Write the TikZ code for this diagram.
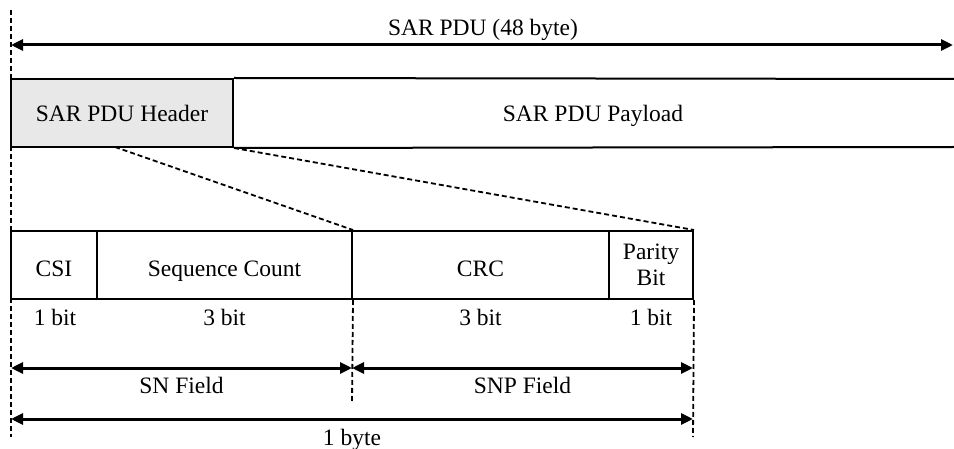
\documentclass[tikz,border=0pt]{standalone}
\usepackage{fontspec}
\setmainfont{Liberation Serif}
\usetikzlibrary{arrows.meta}
\definecolor{hdrgray}{RGB}{232,232,232}
\tikzset{
  lbl/.style={font=\fontsize{23.5}{30}\selectfont, inner sep=0pt, anchor=base},
  fieldbox/.style={draw, line width=2pt, minimum height=68pt, inner sep=0pt, font=\fontsize{23.5}{30}\selectfont, align=center},
  hdrtext/.style={text height=18pt, text depth=0pt},
  lowtext/.style={text height=24pt, text depth=0pt},
  guide/.style={line width=1.8pt, dash pattern=on 5pt off 3pt},
  span/.style={line width=3pt, {Triangle[length=12pt,width=11pt]}-{Triangle[length=12pt,width=11pt]}},
  edge/.style={line width=2pt}
}
\begin{document}
\begin{tikzpicture}[x=1pt,y=-1pt]
\useasboundingbox (0,0) rectangle (954,449);
% top span
\coordinate (tl) at (11,45);
\coordinate (tr) at (953,45);
\draw[span] (tl) -- (tr);
\node[lbl] (pdu) at (483,36) {SAR PDU (48 byte)};
% header and payload
\node[fieldbox, hdrtext, fill=hdrgray, minimum width=222pt] (hdr) at (122,113) {SAR PDU Header};
\coordinate (payt) at (954,79);
\coordinate (payb) at (954,147);
\draw[edge] (hdr.north east) -- (payt);
\draw[edge] (hdr.south east) -- (payb);
\node[lbl] (pay) at (593,122) {SAR PDU Payload};
% lower fields
\node[fieldbox, lowtext, minimum width=86pt] (csi) at (54,265) {CSI};
\node[fieldbox, lowtext, minimum width=255pt] (seq) at (224.5,265) {Sequence Count};
\node[fieldbox, lowtext, minimum width=257pt] (crc) at (480.5,265) {CRC};
\node[fieldbox, minimum width=84pt] (par) at (651,265) {Parity\\[-4pt]Bit};
% zoom guides
\coordinate (hm) at (115,147);
\draw[guide] (hm) -- (seq.north east);
\draw[guide] (hdr.south east) -- (par.north east);
% vertical guides
\coordinate (vlt) at (11,10);
\coordinate (vlb) at (11,437);
\coordinate (vmb) at (352,403);
\coordinate (vrb) at (693,437);
\draw[guide] (vlt) -- (vlb);
\draw[guide] (seq.south east) -- (vmb);
\draw[guide] (par.south east) -- (vrb);
% bit labels
\node[lbl] (b1) at (55,326) {1 bit};
\node[lbl] (b2) at (224.5,326) {3 bit};
\node[lbl] (b3) at (480.5,326) {3 bit};
\node[lbl] (b4) at (651,326) {1 bit};
% field spans
\coordinate (snl) at (11,368);
\coordinate (snm) at (352,368);
\coordinate (snr) at (693,368);
\draw[span] (snl) -- (snm);
\draw[span] (snm) -- (snr);
\node[lbl] (snf) at (181.5,393) {SN Field};
\node[lbl] (snpf) at (522.5,393) {SNP Field};
\coordinate (byl) at (11,419);
\coordinate (byr) at (693,419);
\draw[span] (byl) -- (byr);
\node[lbl] (byte) at (352,445) {1 byte};
\end{tikzpicture}
\end{document}
